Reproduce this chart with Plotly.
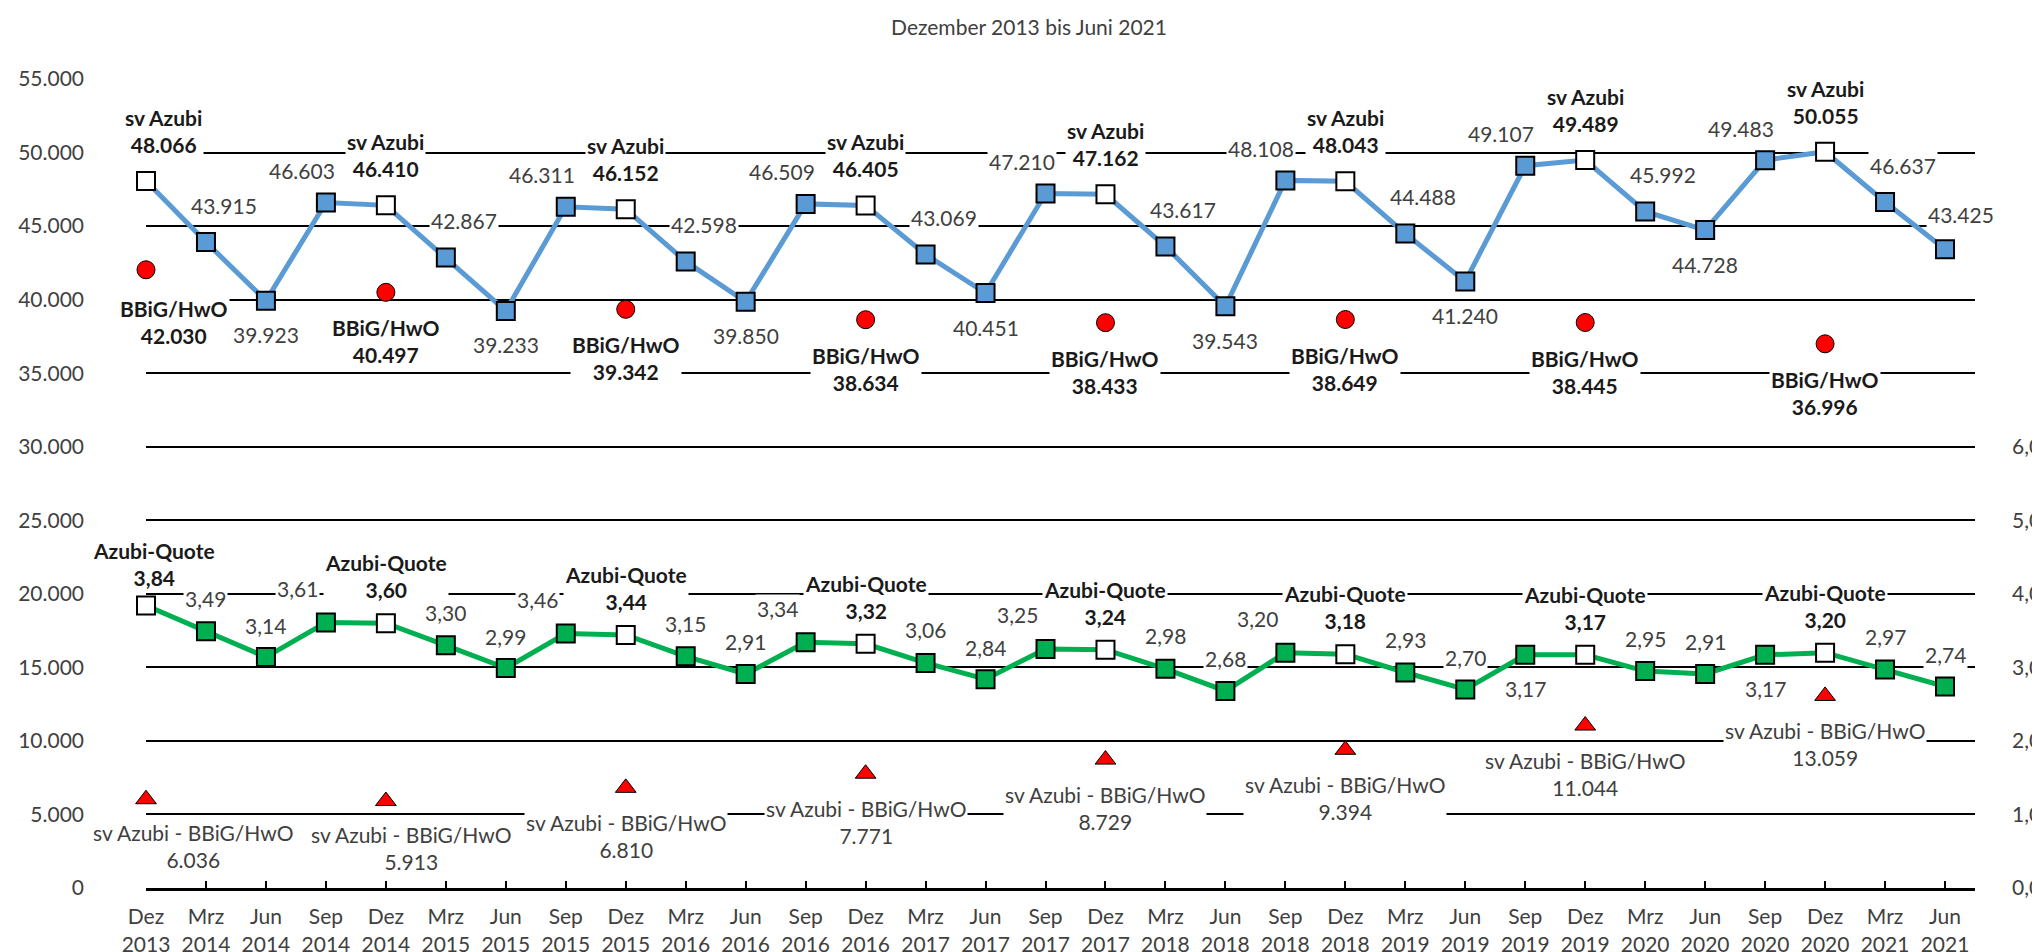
import plotly.graph_objects as go

# ---------------- data ----------------
MONTHS = ["Dez", "Mrz", "Jun", "Sep", "Dez", "Mrz", "Jun", "Sep", "Dez", "Mrz", "Jun",
          "Sep", "Dez", "Mrz", "Jun", "Sep", "Dez", "Mrz", "Jun", "Sep", "Dez", "Mrz",
          "Jun", "Sep", "Dez", "Mrz", "Jun", "Sep", "Dez", "Mrz", "Jun"]
YEARS = ["2013", "2014", "2014", "2014", "2014", "2015", "2015", "2015", "2015", "2016", "2016",
         "2016", "2016", "2017", "2017", "2017", "2017", "2018", "2018", "2018", "2018", "2019",
         "2019", "2019", "2019", "2020", "2020", "2020", "2020", "2021", "2021"]

SV_AZUBI = [48066, 43915, 39923, 46603, 46410, 42867, 39233, 46311, 46152, 42598, 39850,
            46509, 46405, 43069, 40451, 47210, 47162, 43617, 39543, 48108, 48043, 44488,
            41240, 49107, 49489, 45992, 44728, 49483, 50055, 46637, 43425]
AZUBI_QUOTE = [3.84, 3.49, 3.14, 3.61, 3.60, 3.30, 2.99, 3.46, 3.44, 3.15, 2.91,
               3.34, 3.32, 3.06, 2.84, 3.25, 3.24, 2.98, 2.68, 3.20, 3.18, 2.93,
               2.70, 3.17, 3.17, 2.95, 2.91, 3.17, 3.20, 2.97, 2.74]
DEZ_YEARS = ["2013", "2014", "2015", "2016", "2017", "2018", "2019", "2020"]
BBIG_HWO = [42030, 40497, 39342, 38634, 38433, 38649, 38445, 36996]
DIFF = [6036, 5913, 6810, 7771, 8729, 9394, 11044, 13059]

NAME_SV = "sv Azubi"
NAME_BBIG = "BBiG/HwO"
NAME_QUOTE = "Azubi-Quote"
NAME_DIFF = "sv Azubi - BBiG/HwO"
TITLE = "Dezember 2013 bis Juni 2021"

CATEGORIES = [f"{m}<br>{y}" for m, y in zip(MONTHS, YEARS)]
DEZ_CATS = [f"Dez<br>{y}" for y in DEZ_YEARS]

# ---------------- style ----------------
FONT = "Lato"
FS = 21
GREY = "#404040"
BOLD_COL = "#1a1a1a"
BLUE = "#5B9BD5"
GREEN = "#00B050"
RED = "#FF0000"


def fmt_int(v):
    return f"{v:,}".replace(",", ".")


def fmt_pct(v):
    return f"{v:.2f}".replace(".", ",")


# label offsets (dx right, dy down) in px
BLUE_OFF = {"Mrz": (18, -37), "Jun": (0, 34), "Sep": (-24, -32), "Dez": (0, -50)}
BLUE_OVR = {"Dez<br>2013": (17, -50), "Jun<br>2021": (16, -35)}
GREEN_OFF = {"Mrz": (0, -33), "Jun": (0, -32), "Sep": (-28, -34), "Dez": (0, -47)}
GREEN_OVR = {"Sep<br>2019": (0, 34), "Sep<br>2020": (0, 34), "Dez<br>2013": (8, -42)}
RED_OFF = (0, 49)
RED_OVR = {"Dez<br>2013": (28, 52)}
DIFF_OFF = (0, 48)
DIFF_OVR = {"Dez<br>2013": (47, 47), "Dez<br>2014": (25, 47)}

fig = go.Figure()

fig.add_trace(go.Scatter(
    x=CATEGORIES, y=SV_AZUBI, mode="lines+markers", yaxis="y", cliponaxis=False,
    line=dict(color=BLUE, width=5),
    marker=dict(symbol="square", size=18,
                color=["white" if m == "Dez" else BLUE for m in MONTHS],
                line=dict(color="black", width=2)),
    hoverinfo="skip"))

fig.add_trace(go.Scatter(
    x=DEZ_CATS, y=BBIG_HWO, mode="markers", yaxis="y", cliponaxis=False,
    marker=dict(symbol="circle", size=18, color=RED, line=dict(color="black", width=1)),
    hoverinfo="skip"))

fig.add_trace(go.Scatter(
    x=DEZ_CATS, y=DIFF, mode="markers", yaxis="y", cliponaxis=False,
    marker=dict(symbol="triangle-up", size=18, color=RED, line=dict(color="black", width=1)),
    hoverinfo="skip"))

fig.add_trace(go.Scatter(
    x=CATEGORIES, y=AZUBI_QUOTE, mode="lines+markers", yaxis="y2", cliponaxis=False,
    line=dict(color=GREEN, width=5),
    marker=dict(symbol="square", size=18,
                color=["white" if m == "Dez" else GREEN for m in MONTHS],
                line=dict(color="black", width=2)),
    hoverinfo="skip"))

ann = []


def label(x, y, yref, text, off, bold=False):
    dx, dy = off
    ann.append(dict(
        x=x, y=y, xref="x", yref=yref, text=text, showarrow=False,
        xanchor="center", yanchor="middle", xshift=dx, yshift=-dy,
        bgcolor="white", borderpad=1, align="center",
        font=dict(family=FONT, size=FS, color=BOLD_COL if bold else GREY,
                  weight="bold" if bold else "normal")))


for c, m, v in zip(CATEGORIES, MONTHS, SV_AZUBI):
    off = BLUE_OVR.get(c, BLUE_OFF[m])
    if m == "Dez":
        label(c, v, "y", f"{NAME_SV}<br>{fmt_int(v)}", off, bold=True)
    else:
        label(c, v, "y", fmt_int(v), off)

for c, m, v in zip(CATEGORIES, MONTHS, AZUBI_QUOTE):
    off = GREEN_OVR.get(c, GREEN_OFF[m])
    if m == "Dez":
        label(c, v, "y2", f"{NAME_QUOTE}<br>{fmt_pct(v)}", off, bold=True)
    else:
        label(c, v, "y2", fmt_pct(v), off)

for c, v in zip(DEZ_CATS, BBIG_HWO):
    label(c, v, "y", f"{NAME_BBIG}<br>{fmt_int(v)}", RED_OVR.get(c, RED_OFF), bold=True)

for c, v in zip(DEZ_CATS, DIFF):
    label(c, v, "y", f"{NAME_DIFF}<br>{fmt_int(v)}", DIFF_OVR.get(c, DIFF_OFF))

fig.update_layout(
    width=2040, height=952,
    margin=dict(l=138, r=73, t=71, b=72, autoexpand=False),
    paper_bgcolor="white", plot_bgcolor="white",
    separators=",.",
    showlegend=False,
    font=dict(family=FONT, size=FS, color=GREY),
    title=dict(text=TITLE, x=0.5005, xanchor="center", xref="container",
               y=1 - 20 / 952, yanchor="middle", yref="container",
               font=dict(family=FONT, size=FS, color=GREY)),
    xaxis=dict(type="category", range=[0, 30.5], tickmode="array", tickvals=CATEGORIES,
               ticktext=CATEGORIES, showgrid=False, zeroline=False,
               showline=True, linecolor="black", linewidth=3,
               ticks="inside", ticklen=7, tickwidth=2, tickcolor="black",
               ticklabelstandoff=8, tickfont=dict(family=FONT, size=FS, color=GREY)),
    yaxis=dict(range=[0, 55000], tickmode="linear", tick0=0, dtick=5000, tickformat=",d",
               showgrid=True, gridcolor="black", gridwidth=2, zeroline=False,
               showline=False, ticks="", ticklabelstandoff=61,
               tickfont=dict(family=FONT, size=FS, color=GREY)),
    yaxis2=dict(range=[0, 11], overlaying="y", side="right", tickmode="array",
                tickvals=[0, 1, 2, 3, 4, 5, 6], tickformat=".1f",
                showgrid=False, zeroline=False, showline=False, ticks="",
                ticklabelstandoff=36, tickfont=dict(family=FONT, size=FS, color=GREY)),
    annotations=ann,
)

fig.write_html("out.html")
